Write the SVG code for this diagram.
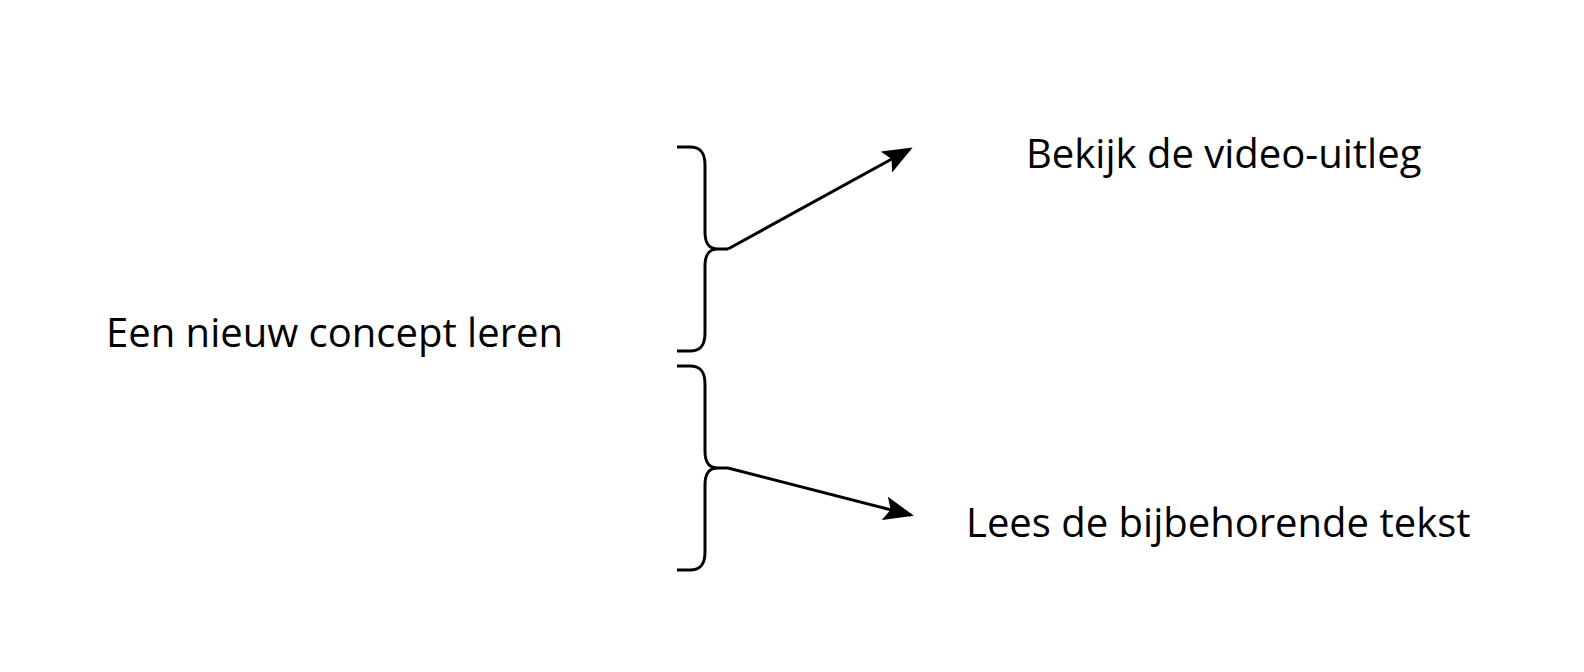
<svg xmlns="http://www.w3.org/2000/svg" width="1584" height="672" viewBox="0 0 1584 672">
<style>
.t{font-family:"Open Sans","Noto Sans",sans-serif;font-size:40px;fill:#000}
.b{fill:none;stroke:#000;stroke-width:3;stroke-linecap:butt;stroke-linejoin:round}
.a{fill:none;stroke:#000;stroke-width:3}
</style>
<defs>
<marker id="ah" markerWidth="10" markerHeight="8" refX="9" refY="4" orient="auto" markerUnits="strokeWidth">
<path d="M0,0 L10,4 L0,8 L2,4 Z" fill="#000"/>
</marker>
</defs>
<rect width="1584" height="672" fill="#fff"/>
<g id="root"><text class="t" x="106" y="347">Een nieuw concept leren</text></g>
<g id="video"><text class="t" x="1026" y="168">Bekijk de video-uitleg</text></g>
<g id="tekst"><text class="t" x="966" y="537">Lees de bijbehorende tekst</text></g>
<g id="brace1"><path class="b" d="M677,147 H690 C701,147 705,153 705,165 V232 C705,244 709,249 718,249 H728 M718,249 C709,249 705,254 705,266 V333 C705,345 701,351 690,351 H677"/></g>
<g id="brace2"><path class="b" d="M677,366 H690 C701,366 705,372 705,384 V451 C705,463 709,468 718,468 H728 M718,468 C709,468 705,473 705,485 V552 C705,564 701,570 690,570 H677"/></g>
<g id="connectors">
<line class="a" x1="728" y1="249" x2="910" y2="149" marker-end="url(#ah)"/>
<line class="a" x1="728" y1="468" x2="911" y2="515" marker-end="url(#ah)"/>
</g>
</svg>
